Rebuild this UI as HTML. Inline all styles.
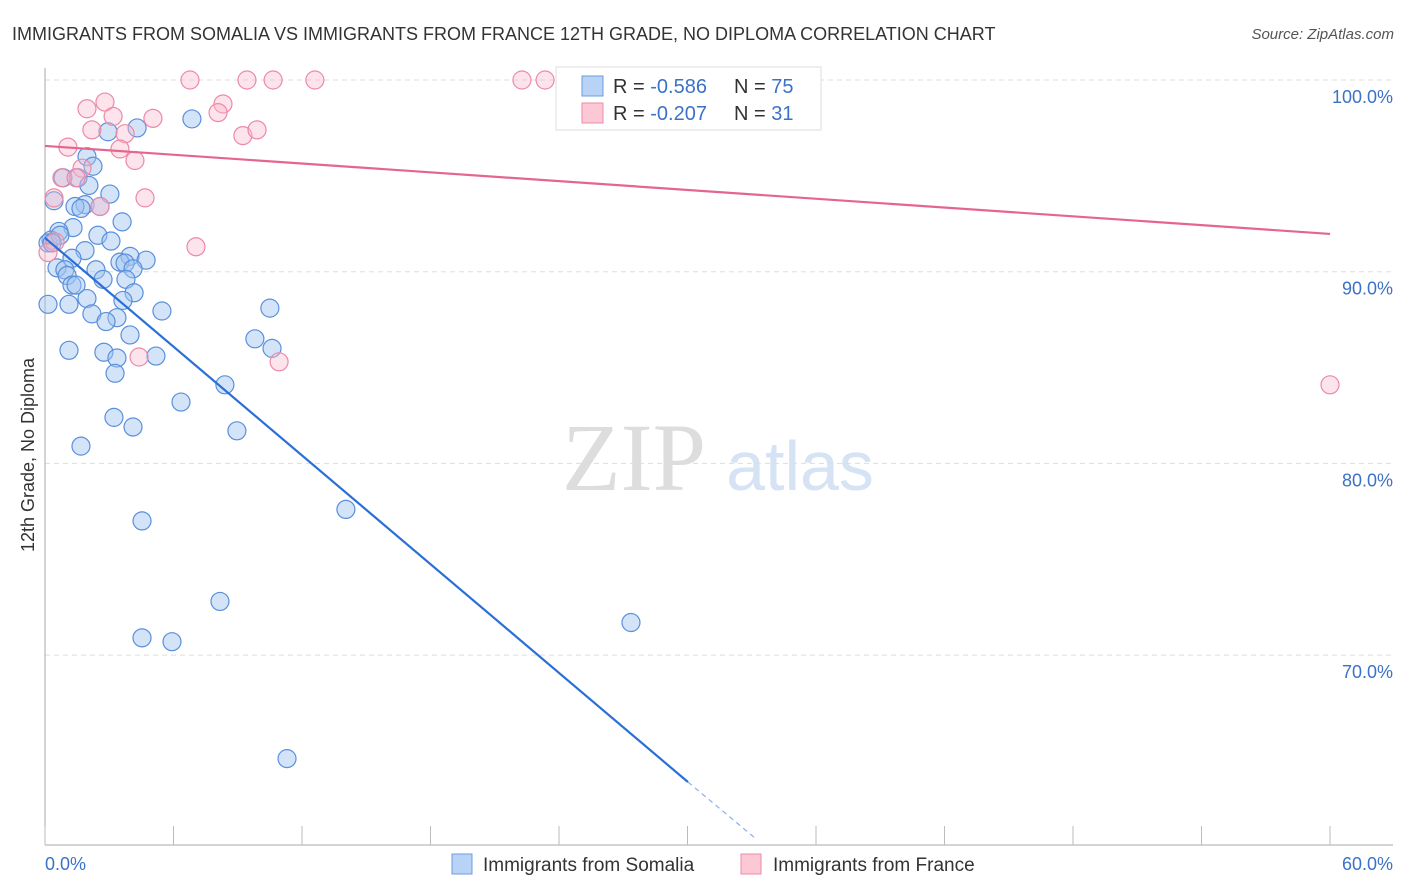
<!DOCTYPE html>
<html><head><meta charset="utf-8">
<style>
body{margin:0;background:#fff;font-family:"Liberation Sans",sans-serif;}
#wrap{position:relative;width:1406px;height:892px;overflow:hidden;}
</style></head>
<body>
<div id="wrap">
<svg id="svg" width="1406" height="892" xmlns="http://www.w3.org/2000/svg">
<text x="12" y="40" font-size="18" fill="#333">IMMIGRANTS FROM SOMALIA VS IMMIGRANTS FROM FRANCE 12TH GRADE, NO DIPLOMA CORRELATION CHART</text>
<text x="1394" y="39" font-size="15" fill="#555" font-style="italic" text-anchor="end">Source: ZipAtlas.com</text>
<text x="634" y="490" font-size="96" fill="#ddd" font-family="Liberation Serif,serif" text-anchor="middle">ZIP</text>
<text x="800" y="490" font-size="70" fill="#d5e3f5" text-anchor="middle">atlas</text>
<g id="grid"></g>
<g id="axes"></g>
<g id="pts"></g>
<g id="trend"></g>
<text transform="translate(34,455) rotate(-90)" font-size="18" fill="#333" text-anchor="middle">12th Grade, No Diploma</text>
<g>
<rect x="556" y="67" width="265" height="63" fill="#fff" stroke="#ddd"/>
<rect x="582" y="76" width="21" height="20" fill="#b8d3f5" stroke="#6b9be0"/>
<rect x="582" y="103" width="21" height="20" fill="#fcc8d6" stroke="#ec8aa6"/>
<text x="613" y="93" font-size="20" fill="#333">R = <tspan fill="#3b72c8">-0.586</tspan></text>
<text x="734" y="93" font-size="20" fill="#333">N = <tspan fill="#3b72c8">75</tspan></text>
<text x="613" y="120" font-size="20" fill="#333">R = <tspan fill="#3b72c8">-0.207</tspan></text>
<text x="734" y="120" font-size="20" fill="#333">N = <tspan fill="#3b72c8"> 31</tspan></text>
</g>
<g>
<rect x="452" y="854" width="20" height="20" fill="#b8d3f5" stroke="#6b9be0"/>
<text x="483" y="871" font-size="19" fill="#333">Immigrants from Somalia</text>
<rect x="741" y="854" width="20" height="20" fill="#fcc8d6" stroke="#ec8aa6"/>
<text x="773" y="871" font-size="19" fill="#333">Immigrants from France</text>
</g>
</svg>
</div>
<script>
const yTicks=[100,90,80,70];
const yTickLabels=["100.0%","90.0%","80.0%","70.0%"];
const xTickVals=[0,6,12,18,24,30,36,42,48,54,60];
const somaliaX=[2.94,4.30,6.86,1.96,2.24,0.84,1.54,2.05,0.42,3.03,1.87,1.40,1.68,2.57,3.60,1.31,0.65,2.47,0.28,3.08,0.14,1.87,1.26,3.97,4.72,3.50,3.74,0.56,0.93,2.38,4.11,1.03,2.71,3.78,1.26,1.45,1.96,4.16,0.14,1.12,3.64,2.19,5.46,3.36,10.5,2.85,3.97,9.8,1.12,2.75,3.36,5.18,10.6,3.27,8.4,6.35,3.22,4.11,8.96,1.68,14.05,4.53,8.17,27.36,4.53,5.93,11.3,0.7,0.33];
const somaliaY=[97.3,97.5,97.97,96.0,95.5,94.9,94.9,94.5,93.7,94.05,93.5,93.4,93.3,93.4,92.6,92.3,92.1,91.9,91.65,91.6,91.5,91.1,90.7,90.8,90.6,90.5,90.45,90.2,90.1,90.1,90.15,89.8,89.6,89.6,89.3,89.3,88.6,88.9,88.3,88.3,88.5,87.8,87.95,87.6,88.1,87.4,86.7,86.5,85.9,85.8,85.5,85.6,86.0,84.7,84.1,83.2,82.4,81.9,81.7,80.9,77.6,77.0,72.8,71.7,70.9,70.7,64.6,91.9,91.5];
const franceX=[6.77,9.43,10.65,12.6,22.27,23.35,31.24,1.96,2.80,8.31,8.08,5.04,3.18,2.19,3.74,9.24,9.9,1.07,3.50,4.20,1.73,0.79,1.45,0.42,2.57,4.67,7.05,0.47,0.14,4.39,10.93,60];
const franceY=[100,100,100,100,100,100,100,98.5,98.85,98.75,98.3,98.0,98.1,97.4,97.2,97.1,97.4,96.5,96.4,95.8,95.4,94.9,94.9,93.85,93.4,93.85,91.3,91.55,91.0,85.55,85.3,84.1];
const somaliaTrend=[[0,91.76],[30.02,63.38],[33.15,60.46]];
const franceTrend=[[0,96.56],[60,91.97]];
const NS="http://www.w3.org/2000/svg";
const X=v=>45+v*21.417, Y=v=>80+(100-v)*19.17;
function mk(tag,attrs,parent){const e=document.createElementNS(NS,tag);for(const k in attrs)e.setAttribute(k,attrs[k]);document.getElementById(parent).appendChild(e);return e;}
yTicks.forEach((t,i)=>{
 const l=mk('line',{x1:45,x2:1393,y1:Y(t),y2:Y(t),stroke:'#ddd','stroke-dasharray':'5,4'},'grid');
 
 
 const tx=mk('text',{x:1393,y:Y(t)+23,'font-size':18,fill:'#3b72c8','text-anchor':'end'},'grid');
 tx.textContent=yTickLabels[i];
 
 
});
let a=mk('line',{x1:45,x2:45,y1:68,y2:845,stroke:'#aaa'},'axes');


a=mk('line',{x1:45,x2:1393,y1:845,y2:845,stroke:'#aaa'},'axes');


xTickVals.forEach(v=>{
 const t=mk('line',{x1:X(v),x2:X(v),y1:826,y2:845,stroke:'#bbb'},'axes');
 
 
});
[[0,'0.0%','start'],[60,'60.0%','end']].forEach(([v,s,anc])=>{
 const t=mk('text',{x:anc==='end'?1393:X(v),y:870,'font-size':18,fill:'#3b72c8','text-anchor':anc},'axes');
 t.textContent=s;
 
 
});
somaliaX.forEach((x,i)=>{
 const c=mk('circle',{cx:X(x),cy:Y(somaliaY[i]),r:9,fill:'rgba(160,196,240,0.45)',stroke:'#5a8fdc','stroke-width':1.2},'pts');
 
 
});
franceX.forEach((x,i)=>{
 const c=mk('circle',{cx:X(x),cy:Y(franceY[i]),r:9,fill:'rgba(250,185,205,0.4)',stroke:'#ec8aa6','stroke-width':1.2},'pts');
 
 
});
let l=mk('line',{x1:X(somaliaTrend[0][0]),y1:Y(somaliaTrend[0][1]),x2:X(somaliaTrend[1][0]),y2:Y(somaliaTrend[1][1]),stroke:'#2a6fd6','stroke-width':2.2},'trend');


l=mk('line',{x1:X(somaliaTrend[1][0]),y1:Y(somaliaTrend[1][1]),x2:X(somaliaTrend[2][0]),y2:Y(somaliaTrend[2][1]),stroke:'#8ab0e8','stroke-width':1.2,'stroke-dasharray':'5,4'},'trend');


l=mk('line',{x1:X(franceTrend[0][0]),y1:Y(franceTrend[0][1]),x2:X(franceTrend[1][0]),y2:Y(franceTrend[1][1]),stroke:'#e4668e','stroke-width':2.2},'trend');


</script>
</body></html>
